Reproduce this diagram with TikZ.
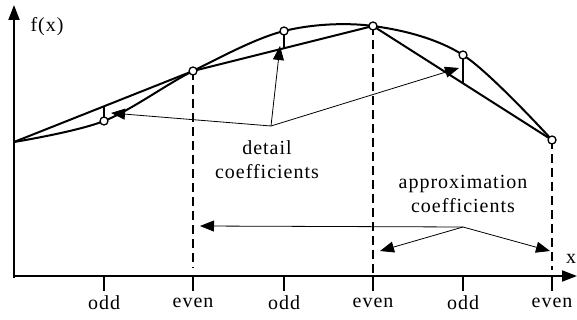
\documentclass[tikz,border=0pt]{standalone}
\usepackage{fontspec}
\setmainfont[LetterSpace=5]{Liberation Serif}
\usetikzlibrary{arrows.meta}

\begin{document}
\begin{tikzpicture}[x=1pt, y=-1pt, every node/.style={font=\fontsize{20}{24}\selectfont}, axis/.style={line width=1.9pt,-{Triangle[length=15pt,width=11pt]}}, seg/.style={line width=2pt}, guide/.style={line width=2pt,dash pattern=on 9pt off 5pt}, pointer/.style={line width=0.8pt,-{Triangle[length=14pt,width=11pt]}}, sample/.style={circle,draw,fill=white,line width=1.3pt,inner sep=0pt,minimum size=8pt}]
\useasboundingbox (0,0) rectangle (577,320);
% samples of f(x)
\coordinate (e0) at (14,142); \coordinate (o1) at (104,121); \coordinate (e1) at (193,71);
\coordinate (o2) at (284,31); \coordinate (e2) at (373,26); \coordinate (o3) at (463,55); \coordinate (e3) at (552,140);
% points on the chords below the odd samples
\coordinate (d1) at (104,106); \coordinate (d2) at (284,48); \coordinate (d3) at (463,83);
% axes
\coordinate (org) at (14,276);
\draw[axis] (14,278) -- (14,5) coordinate (ytip);
\draw[axis] (org) -- (577,276) coordinate (xtip);
\node (fx) at (47,27) {f(x)};
\node (xl) at (571,259) {x};
\foreach \x/\t in {104/odd,193/even,284/odd,373/even,463/odd,552/even}
  {\draw[seg] (\x,276) -- (\x,291) coordinate (tk\x); \node (lb\x) at (\x,303) {\t};}
% even positions
\draw[guide] (e1) -- (193,268);
\draw[guide] (e2) -- (373,276);
\draw[guide] (e3) -- (552,270);
% signal and its linear prediction
\draw[seg] plot[smooth,tension=0.55] coordinates {(e0) (o1) (e1) (o2) (e2) (o3) (e3)};
\draw[seg] (e0) -- (e1) -- (e2) -- (e3);
\draw[seg] (o1) -- (d1); \draw[seg] (o2) -- (d2); \draw[seg] (o3) -- (d3);
\foreach \p in {o1,e1,o2,e2,o3,e3} \node[sample] (c\p) at (\p) {};
% detail coefficients
\node[align=center] (det) at (267,160) {detail\\coefficients};
\coordinate (dj) at (271,126);
\draw[pointer] (dj) -- (111,113);
\draw[pointer] (dj) -- (280,46);
\draw[pointer] (dj) -- (459,68);
% approximation coefficients
\node[align=center] (app) at (463,194) {approximation\\coefficients};
\coordinate (aj) at (463,227);
\draw[pointer] (aj) -- (200,226);
\draw[pointer] (aj) -- (380,251);
\draw[pointer] (aj) -- (550,251);
\end{tikzpicture}
\end{document}
